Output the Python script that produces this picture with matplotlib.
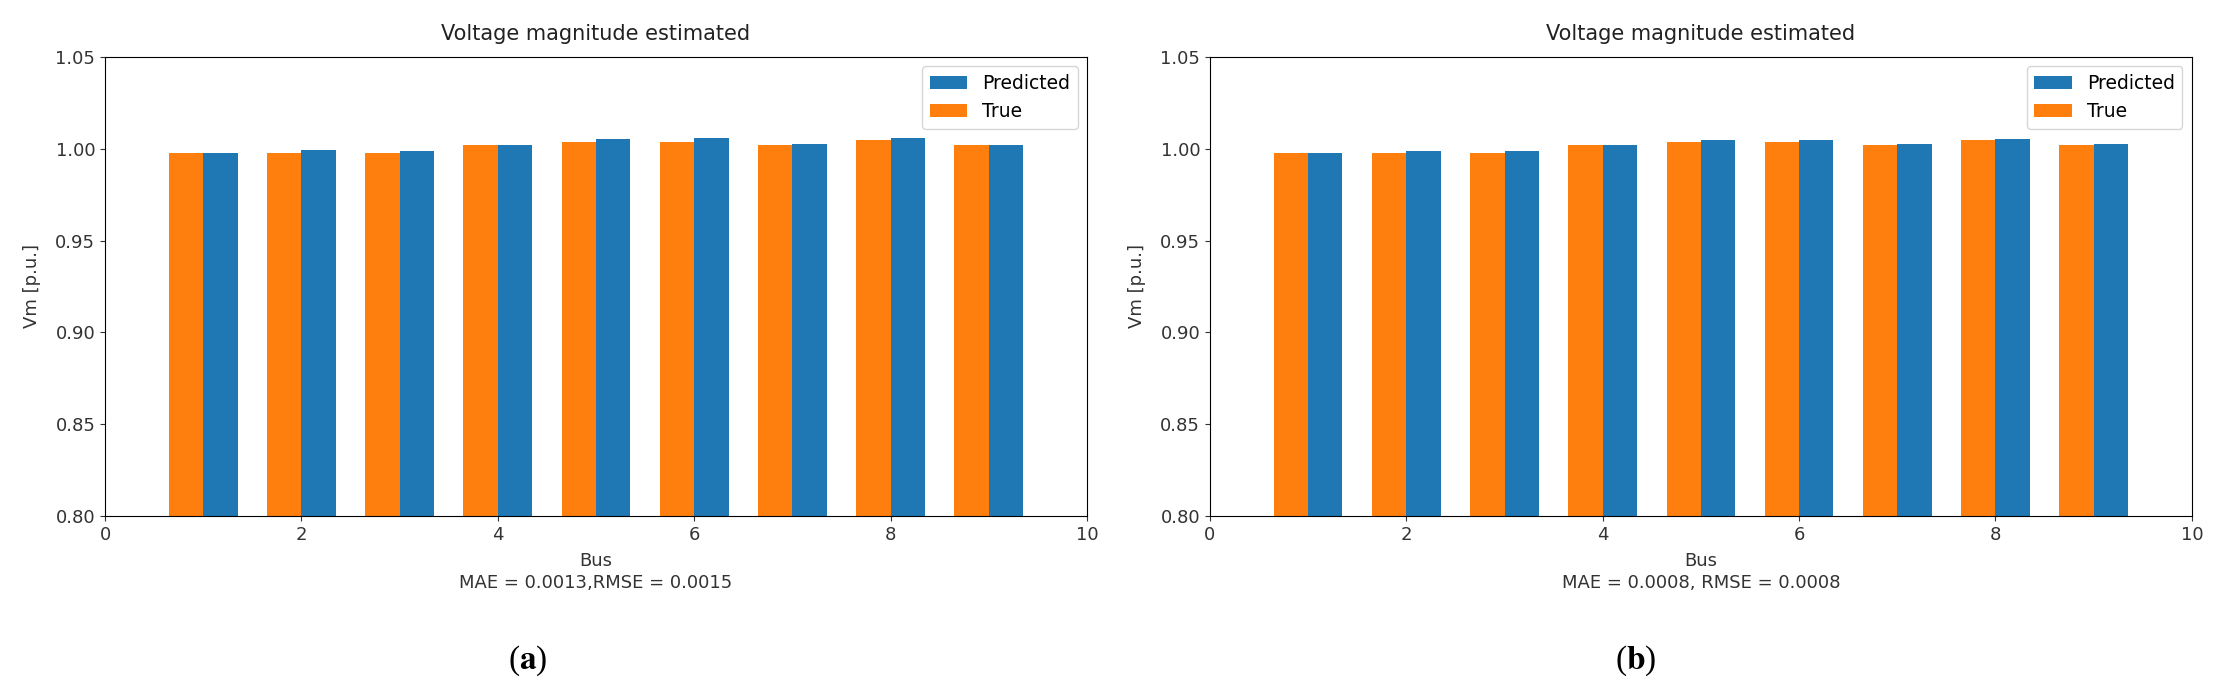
import matplotlib
matplotlib.use("Agg")
import matplotlib.pyplot as plt
import numpy as np

buses = [1, 2, 3, 4, 5, 6, 7, 8, 9]
true_a = [0.9977, 0.9977, 0.9977, 1.0018, 1.0036, 1.0036, 1.0018, 1.0045, 1.0018]
pred_a = [0.9977, 0.9995, 0.9986, 1.0018, 1.0052, 1.0061, 1.0027, 1.0061, 1.0018]
true_b = [0.9977, 0.9977, 0.9977, 1.0018, 1.0036, 1.0036, 1.0018, 1.0045, 1.0018]
pred_b = [0.9977, 0.9986, 0.9986, 1.0018, 1.0045, 1.0045, 1.0027, 1.0052, 1.0027]
xticks = [0, 2, 4, 6, 8, 10]
yticks = [0.80, 0.85, 0.90, 0.95, 1.00, 1.05]
metrics = ["MAE = 0.0013,RMSE = 0.0015", "MAE = 0.0008, RMSE = 0.0008"]
captions = ["a", "b"]

plt.rcParams['font.family'] = ['DejaVu Sans']
fig = plt.figure(figsize=(22.16, 6.94), dpi=100)
positions = [[0.0474, 0.2565, 0.4431, 0.6615], [0.546, 0.2565, 0.4431, 0.6615]]
w = 0.35
datasets = [(true_a, pred_a), (true_b, pred_b)]
cap_x = [0.238, 0.738]
for i, (tv, pv) in enumerate(datasets):
    ax = fig.add_axes(positions[i])
    x = np.array(buses)
    ax.bar(x + w / 2, pv, w, color='#1f77b4', label='Predicted')
    ax.bar(x - w / 2, tv, w, color='#ff7f0e', label='True')
    ax.set_xlim(0, 10)
    ax.set_ylim(0.80, 1.05)
    ax.set_xticks(xticks)
    ax.set_yticks(yticks)
    ax.set_yticklabels([f"{v:.2f}" for v in yticks])
    ax.tick_params(labelsize=13, colors='#333333', labelcolor='#333333')
    ax.set_title("Voltage magnitude estimated", fontsize=15, color='#222222', pad=12)
    ax.set_ylabel("Vm [p.u.]", fontsize=13, color='#333333', labelpad=10)
    ax.set_xlabel("Bus\n" + metrics[i], fontsize=13, color='#333333', linespacing=1.3, labelpad=6)
    ax.legend(loc='upper right', fontsize=13.5)
    fig.text(cap_x[i], 0.048, r"($\mathbf{" + captions[i] + r"}$)", ha='center', va='center',
             fontsize=24, family='Liberation Serif', math_fontfamily='stix')

fig.savefig("out.png", dpi=100)
